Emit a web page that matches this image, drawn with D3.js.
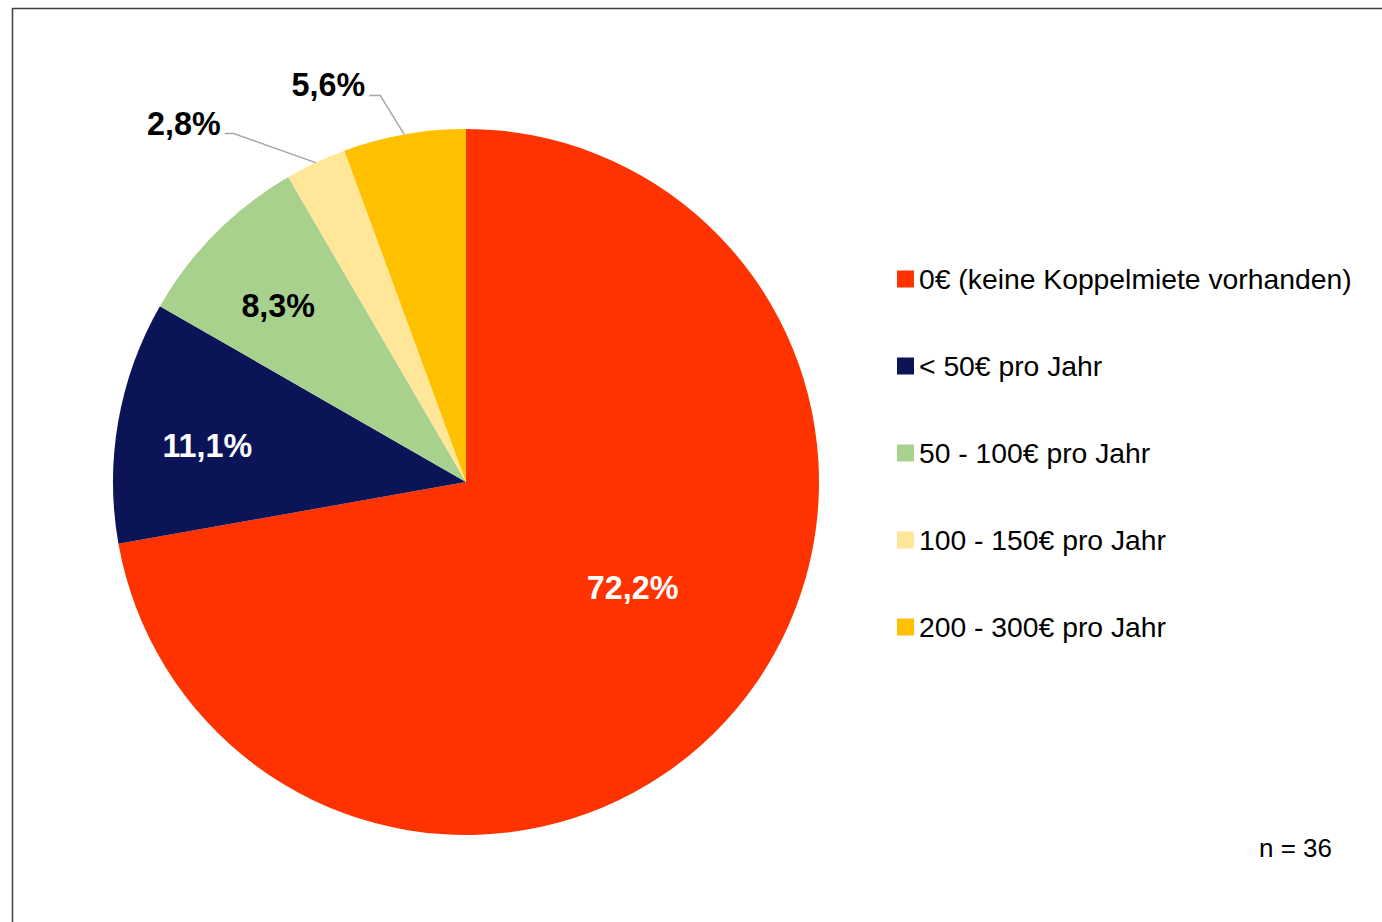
<!DOCTYPE html>
<html lang="de">
<head>
<meta charset="UTF-8">
<title>Koppelmiete</title>
<script src="https://d3js.org/d3.v7.min.js"></script>
<style>
  body { margin: 0; background: #fff; }
  text { font-family: "Liberation Sans", Arial, sans-serif; }
</style>
</head>
<body>
<div id="chart"></div>
<script>
// data
var categories = ["0€ (keine Koppelmiete vorhanden)", "< 50€ pro Jahr", "50 - 100€ pro Jahr", "100 - 150€ pro Jahr", "200 - 300€ pro Jahr"];
var values = [72.2, 11.1, 8.3, 2.8, 5.6];
var labels = ["72,2%", "11,1%", "8,3%", "2,8%", "5,6%"];
var colors = ["#ff3300", "#0a1457", "#a9d18e", "#ffe699", "#ffc000"];
var sampleNote = "n = 36";

var W = 1382, H = 922;
var cx = 466, cy = 482, R = 353;

var svg = d3.select("#chart").append("svg")
    .attr("width", W).attr("height", H);

// frame
svg.append("path")
    .attr("d", "M12.5," + H + " V8.5 H" + W)
    .attr("fill", "none").attr("stroke", "#404040").attr("stroke-width", 1.5);

var pie = d3.pie().sort(null).value(function(d) { return d; });
var arcs = pie(values);
var arc = d3.arc().innerRadius(0).outerRadius(R);

var g = svg.append("g").attr("transform", "translate(" + cx + "," + cy + ")");

g.selectAll("path.slice")
  .data(arcs)
  .enter().append("path")
    .attr("class", "slice")
    .attr("d", arc)
    .attr("fill", function(d, i) { return colors[i]; });

// label placement: inside for big slices, outside with leader lines for small ones
var inside = { 0: { r: 0.56, da: -7.4 }, 1: { r: 0.74, da: -2 }, 2: { r: 0.73, da: -1.6 } };
var outside = { 3: { dx: -82, dy: -29, hx: -9 }, 4: { dx: -24, dy: -39, hx: -11 } };

arcs.forEach(function(d, i) {
  var mid = (d.startAngle + d.endAngle) / 2;
  if (inside[i]) {
    var a = mid + inside[i].da * Math.PI / 180;
    var r = R * inside[i].r;
    g.append("text")
      .attr("x", r * Math.sin(a))
      .attr("y", -r * Math.cos(a))
      .attr("text-anchor", "middle")
      .attr("dominant-baseline", "central")
      .attr("font-size", 32.3).attr("font-weight", "bold")
      .attr("fill", i === 2 ? "#000" : "#fff")
      .text(labels[i]);
  } else {
    var o = outside[i];
    var x0 = R * Math.sin(mid), y0 = -R * Math.cos(mid);
    var x1 = x0 + o.dx, y1 = y0 + o.dy, x2 = x1 + o.hx;
    g.append("polyline")
      .attr("points", [[x0, y0], [x1, y1], [x2, y1]].join(" "))
      .attr("fill", "none").attr("stroke", "#a6a6a6").attr("stroke-width", 1.5);
    g.append("text")
      .attr("x", x2 - 4).attr("y", y1 + 1)
      .attr("text-anchor", "end")
      .attr("font-size", 32.3).attr("font-weight", "bold")
      .attr("fill", "#000")
      .text(labels[i]);
  }
});

// legend
var legend = svg.append("g").attr("transform", "translate(897,279)");
var row = legend.selectAll("g").data(categories).enter().append("g")
    .attr("transform", function(d, i) { return "translate(0," + (i * 87) + ")"; });
row.append("rect")
    .attr("x", 0).attr("y", -8.5).attr("width", 17).attr("height", 17)
    .attr("fill", function(d, i) { return colors[i]; });
row.append("text")
    .attr("x", 22).attr("y", 0)
    .attr("dominant-baseline", "central")
    .attr("font-size", 28.3).attr("fill", "#000")
    .text(function(d) { return d; });

svg.append("text")
    .attr("x", 1332).attr("y", 857)
    .attr("text-anchor", "end")
    .attr("font-size", 26).attr("fill", "#000")
    .text(sampleNote);
</script>
</body>
</html>
